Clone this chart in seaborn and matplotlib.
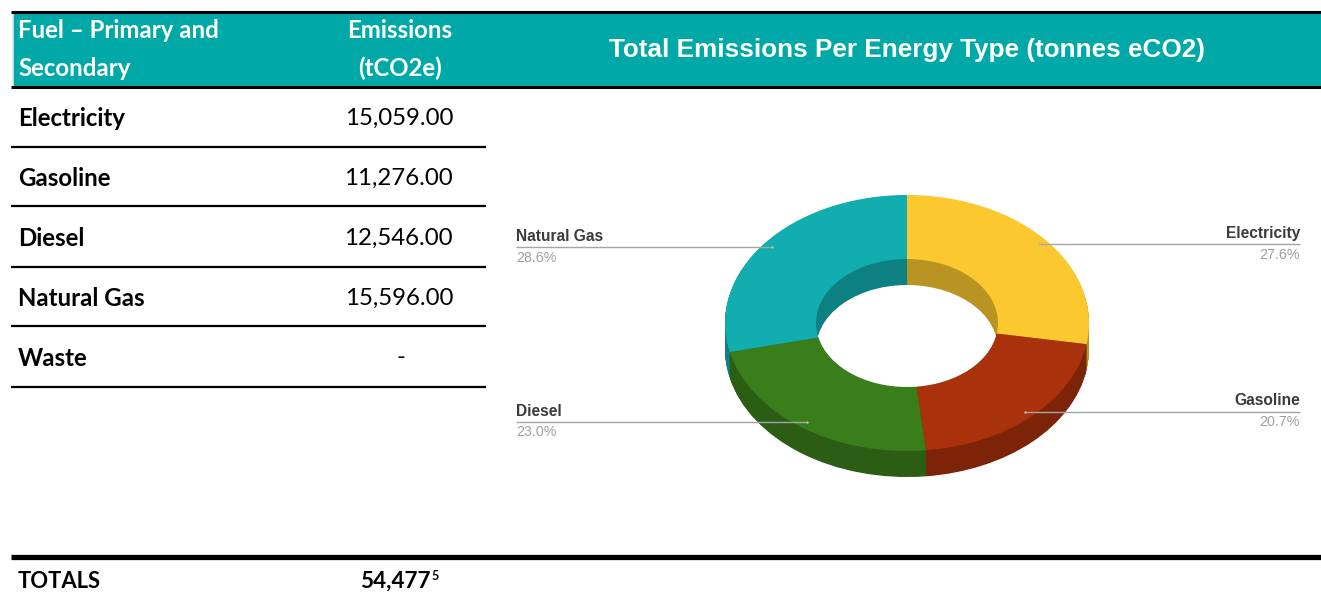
import numpy as np
import matplotlib
matplotlib.use("Agg")
import matplotlib.pyplot as plt
import seaborn as sns
from matplotlib.patches import Rectangle
from matplotlib.colors import to_rgb

# ---- data -------------------------------------------------------------
fuels = ["Electricity", "Gasoline", "Diesel", "Natural Gas", "Waste"]
emissions = [15059.0, 11276.0, 12546.0, 15596.0, None]
total_footnote = "5"

pie_labels = ["Electricity", "Gasoline", "Diesel", "Natural Gas"]
pie_values = [15059.0, 11276.0, 12546.0, 15596.0]
pie_colors = ["#FBC82F", "#A9310B", "#3A7E1C", "#12ADAF"]
label_side = ["right", "right", "left", "left"]

# ---- style ------------------------------------------------------------
sns.set_theme(style="white")
plt.rcParams["font.family"] = ["Lato", "DejaVu Sans"]
TEAL = "#00A9A7"
CHART_FONT = ["Liberation Sans", "DejaVu Sans"]
TABLE_FS = 17.3

W, H = 1321, 593
fig = plt.figure(figsize=(W / 100, H / 100), dpi=100)
fig.patch.set_facecolor("white")

# pixel-space canvas for the table and header band
bg = fig.add_axes([0, 0, 1, 1])
bg.set_xlim(0, W)
bg.set_ylim(H, 0)
bg.axis("off")

bg.add_patch(Rectangle((13, 13), W - 13, 73, facecolor=TEAL, edgecolor="none"))
bg.plot([13, 13], [13, 86], color="#dfe9e9", lw=1.2)
bg.plot([11, W], [11.5, 11.5], color="black", lw=2.2, solid_capstyle="butt")
bg.plot([11, W], [86.5, 86.5], color="black", lw=2.2, solid_capstyle="butt")

hdr = dict(color="white", fontweight="bold", fontsize=TABLE_FS, va="center")
bg.text(18, 31, "Fuel \u2013 Primary and", ha="left", **hdr)
bg.text(18, 68, "Secondary", ha="left", **hdr)
bg.text(400, 31, "Emissions", ha="center", **hdr)
bg.text(400, 68, "(tCO2e)", ha="center", **hdr)
bg.text(907, 50, "Total Emissions Per Energy Type (tonnes eCO2)", ha="center",
        va="center", color="white", fontweight="bold", fontsize=18.8,
        family=CHART_FONT)

# table rows
row_y = [118, 178, 238, 298, 358]
rule_y = [147, 206, 267, 326, 387]
for name, val, yc, yr in zip(fuels, emissions, row_y, rule_y):
    bg.text(18, yc, name, ha="left", va="center", fontweight="bold",
            fontsize=TABLE_FS, color="black")
    if val is None:
        bg.text(401, yc, "-", ha="center", va="center", fontsize=TABLE_FS,
                color="black")
    else:
        bg.text(453, yc, f"{val:,.2f}", ha="right", va="center",
                fontsize=TABLE_FS, color="black")
    bg.plot([11, 486], [yr, yr], color="black", lw=1.6, solid_capstyle="butt")

# totals row
bg.plot([11, W], [557, 557], color="black", lw=3.8, solid_capstyle="butt")
total = sum(v for v in emissions if v is not None)
bg.text(18, 581, "TOTALS", ha="left", va="center", fontweight="bold",
        fontsize=15.8, color="black")
tt = bg.text(360, 581, f"{total:,.0f}", ha="left", va="center",
             fontweight="bold", fontsize=16.2, color="black")
bg.annotate(total_footnote, xy=(1, 1), xycoords=tt, xytext=(0.5, 0),
            textcoords="offset points", ha="left", va="top",
            fontweight="bold", fontsize=9, color="black")

# ---- 3D donut ---------------------------------------------------------
ax = fig.add_axes([490 / W, (H - 550) / H, 831 / W, 460 / H])
ax.axis("off")

cx_px, cy_px, a_px, b_px = 907, 323, 182, 128
depth = 26 / b_px
side_colors = [tuple(c * 0.74 for c in to_rgb(col)) for col in pie_colors]

# extruded walls: stacked rings shifted downward, darker shade
for dy in np.linspace(-depth, 0, 40)[:-1]:
    ax.pie(pie_values, radius=1.0, center=(0, dy), startangle=90,
           counterclock=False, colors=side_colors,
           wedgeprops=dict(width=0.5, edgecolor="none", linewidth=0))
# top face
ax.pie(pie_values, radius=1.0, center=(0, 0), startangle=90,
       counterclock=False, colors=pie_colors,
       wedgeprops=dict(width=0.5, edgecolor="none", linewidth=0))

ax.set_aspect("auto")
ax.set_xlim((490 - cx_px) / a_px, (1321 - cx_px) / a_px)
ax.set_ylim((cy_px - 550) / b_px, (cy_px - 90) / b_px)

# leader lines and labels
vals = np.array(pie_values)
fracs = vals / vals.sum()
start = 0.0
x_left = (516 - cx_px) / a_px
x_right = (1300 - cx_px) / a_px
for lab, frac, side in zip(pie_labels, fracs, label_side):
    mid = np.deg2rad(90 - 360 * (start + frac / 2))
    start += frac
    ex, ey = 0.95 * np.cos(mid), 0.95 * np.sin(mid)
    tx = x_right if side == "right" else x_left
    ha = "right" if side == "right" else "left"
    ax.plot([ex, tx], [ey, ey], color="#a5a5a5", lw=1.0, solid_capstyle="butt")
    ax.plot(ex, ey, marker="o", ms=1.8, color="#b8b8b8", mec="none")
    ax.annotate(lab, xy=(tx, ey), xytext=(0, 2.5), textcoords="offset points",
                ha=ha, va="bottom", fontsize=11.2, fontweight="bold",
                color="#3a3a3a", family=CHART_FONT)
    ax.annotate(f"{frac * 100:.1f}%", xy=(tx, ey), xytext=(0, -2.5),
                textcoords="offset points", ha=ha, va="top", fontsize=10.3,
                color="#a0a0a0", family=CHART_FONT)

fig.savefig("out.png", dpi=100, facecolor="white")
